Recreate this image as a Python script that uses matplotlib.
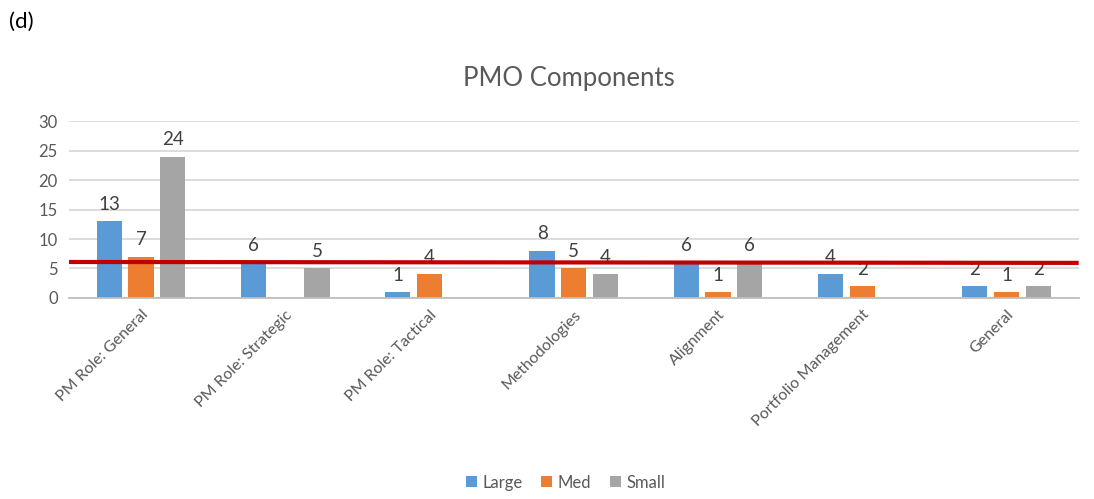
import numpy as np
import matplotlib
matplotlib.use("Agg")
import matplotlib.pyplot as plt

plt.rcParams['font.family'] = ['Lato', 'DejaVu Sans']

# data (0 = no bar drawn)
categories = ["PM Role: General", "PM Role: Strategic", "PM Role: Tactical",
              "Methodologies", "Alignment", "Portfolio Management", "General"]
large = [13, 6, 1, 8, 6, 4, 2]
med = [7, 0, 4, 5, 1, 2, 1]
small = [24, 5, 0, 4, 6, 0, 2]
series_names = ["Large", "Med", "Small"]
series_colors = ["#5B9BD5", "#ED7D31", "#A5A5A5"]

# red reference line (left end, right end)
red_line = [6.1, 5.95]

text_col = "#595959"

fig = plt.figure(figsize=(10.94, 4.99), dpi=100)
ax = fig.add_axes([0.063, 0.403, 0.923, 0.354])

x = np.arange(len(categories))
bw = 0.175
step = 0.22
for i, (vals, name, col) in enumerate(zip([large, med, small], series_names, series_colors)):
    pos = x + (i - 1) * step
    ax.bar(pos, vals, width=bw, color=col, label=name, zorder=2)
    for p, v in zip(pos, vals):
        if v > 0:
            ax.annotate(str(v), (p, v), xytext=(0, 6), textcoords="offset points",
                        ha="center", va="bottom", fontsize=13.5, color="#404040", zorder=3)

ax.plot([-0.5, len(categories) - 0.5], red_line, color="#C00000", lw=3, zorder=5,
        solid_capstyle="butt")

ax.set_xlim(-0.5, len(categories) - 0.5)
ax.set_ylim(0, 30)
ax.set_yticks(range(0, 31, 5))
ax.yaxis.grid(True, color="#D9D9D9", lw=1.3, zorder=0)
ax.set_axisbelow(True)
for s in ["top", "right", "left"]:
    ax.spines[s].set_visible(False)
ax.spines["bottom"].set_color("#BFBFBF")
ax.spines["bottom"].set_linewidth(1.3)
ax.tick_params(axis="y", length=0, labelsize=12, colors=text_col, pad=8)
ax.tick_params(axis="x", length=0, labelsize=11.5, colors=text_col, pad=7)
ax.set_xticks(x)
ax.set_xticklabels(categories, rotation=45, ha="right", rotation_mode="anchor")

fig.text(0.52, 0.843, "PMO Components", ha="center", va="center", fontsize=18.5, color=text_col)
fig.text(0.008, 0.957, "(d)", ha="left", va="center", fontsize=16, color="black")

fig.legend(loc="center", bbox_to_anchor=(0.517, 0.033), ncol=3, frameon=False,
           fontsize=12, handlelength=0.65, handleheight=0.65, handletextpad=0.35,
           columnspacing=1.1, labelcolor=text_col)

fig.savefig("out.png", dpi=100)
